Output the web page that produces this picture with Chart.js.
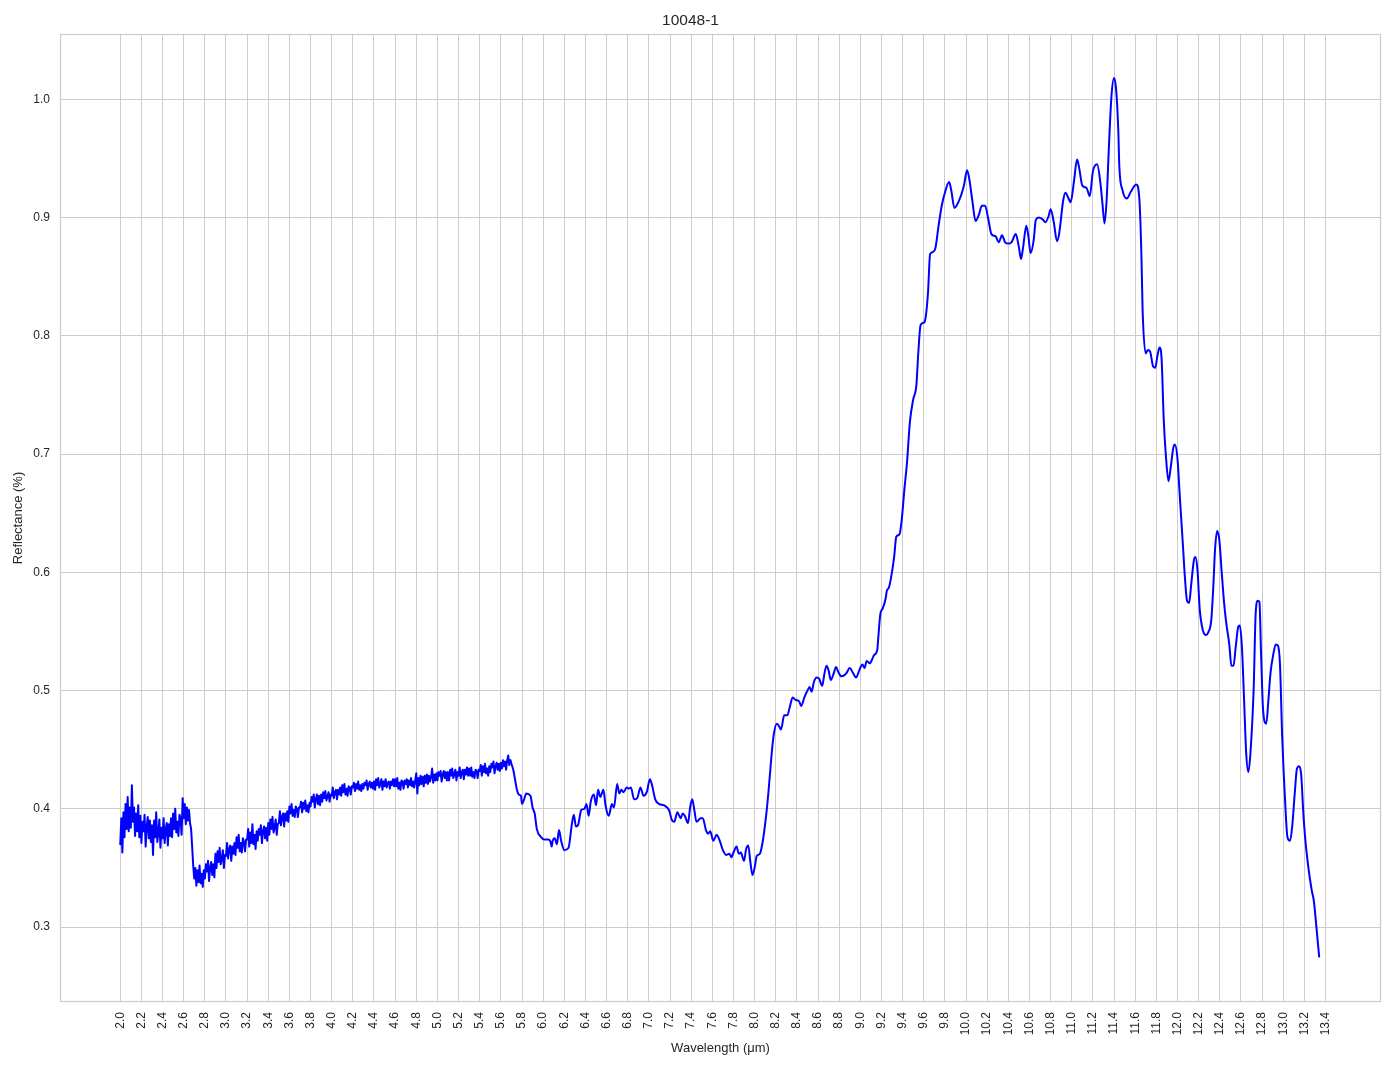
<!DOCTYPE html>
<html>
<head>
<meta charset="utf-8">
<title>10048-1</title>
<script src="https://cdn.jsdelivr.net/npm/chart.js@4.4.0/dist/chart.umd.min.js"></script>
<style>
  html, body { margin: 0; padding: 0; background: #ffffff; }
  #grafico { display: block; }
</style>
</head>
<body>
<canvas id="grafico" width="1394" height="1069"></canvas>
<script>
// Trecho ruidoso (2.00 - 5.69 um), lido ponto a ponto do grafico
const ondaRuido = [
  2.00, 2.01, 2.02, 2.03, 2.04, 2.05, 2.06, 2.07, 2.08, 2.09,
  2.10, 2.11, 2.12, 2.13, 2.14, 2.15, 2.16, 2.17, 2.18, 2.19,
  2.20, 2.21, 2.22, 2.23, 2.24, 2.25, 2.26, 2.27, 2.28, 2.29,
  2.30, 2.31, 2.32, 2.33, 2.34, 2.35, 2.36, 2.37, 2.38, 2.39,
  2.40, 2.41, 2.42, 2.43, 2.44, 2.45, 2.46, 2.47, 2.48, 2.49,
  2.50, 2.51, 2.52, 2.53, 2.54, 2.55, 2.56, 2.57, 2.58, 2.59,
  2.60, 2.61, 2.62, 2.63, 2.64, 2.65, 2.66, 2.67, 2.68, 2.69,
  2.70, 2.71, 2.72, 2.73, 2.74, 2.75, 2.76, 2.77, 2.78, 2.79,
  2.80, 2.81, 2.82, 2.83, 2.84, 2.85, 2.86, 2.87, 2.88, 2.89,
  2.90, 2.91, 2.92, 2.93, 2.94, 2.95, 2.96, 2.97, 2.98, 2.99,
  3.00, 3.01, 3.02, 3.03, 3.04, 3.05, 3.06, 3.07, 3.08, 3.09,
  3.10, 3.11, 3.12, 3.13, 3.14, 3.15, 3.16, 3.17, 3.18, 3.19,
  3.20, 3.21, 3.22, 3.23, 3.24, 3.25, 3.26, 3.27, 3.28, 3.29,
  3.30, 3.31, 3.32, 3.33, 3.34, 3.35, 3.36, 3.37, 3.38, 3.39,
  3.40, 3.41, 3.42, 3.43, 3.44, 3.45, 3.46, 3.47, 3.48, 3.49,
  3.50, 3.51, 3.52, 3.53, 3.54, 3.55, 3.56, 3.57, 3.58, 3.59,
  3.60, 3.61, 3.62, 3.63, 3.64, 3.65, 3.66, 3.67, 3.68, 3.69,
  3.70, 3.71, 3.72, 3.73, 3.74, 3.75, 3.76, 3.77, 3.78, 3.79,
  3.80, 3.81, 3.82, 3.83, 3.84, 3.85, 3.86, 3.87, 3.88, 3.89,
  3.90, 3.91, 3.92, 3.93, 3.94, 3.95, 3.96, 3.97, 3.98, 3.99,
  4.00, 4.01, 4.02, 4.03, 4.04, 4.05, 4.06, 4.07, 4.08, 4.09,
  4.10, 4.11, 4.12, 4.13, 4.14, 4.15, 4.16, 4.17, 4.18, 4.19,
  4.20, 4.21, 4.22, 4.23, 4.24, 4.25, 4.26, 4.27, 4.28, 4.29,
  4.30, 4.31, 4.32, 4.33, 4.34, 4.35, 4.36, 4.37, 4.38, 4.39,
  4.40, 4.41, 4.42, 4.43, 4.44, 4.45, 4.46, 4.47, 4.48, 4.49,
  4.50, 4.51, 4.52, 4.53, 4.54, 4.55, 4.56, 4.57, 4.58, 4.59,
  4.60, 4.61, 4.62, 4.63, 4.64, 4.65, 4.66, 4.67, 4.68, 4.69,
  4.70, 4.71, 4.72, 4.73, 4.74, 4.75, 4.76, 4.77, 4.78, 4.79,
  4.80, 4.81, 4.82, 4.83, 4.84, 4.85, 4.86, 4.87, 4.88, 4.89,
  4.90, 4.91, 4.92, 4.93, 4.94, 4.95, 4.96, 4.97, 4.98, 4.99,
  5.00, 5.01, 5.02, 5.03, 5.04, 5.05, 5.06, 5.07, 5.08, 5.09,
  5.10, 5.11, 5.12, 5.13, 5.14, 5.15, 5.16, 5.17, 5.18, 5.19,
  5.20, 5.21, 5.22, 5.23, 5.24, 5.25, 5.26, 5.27, 5.28, 5.29,
  5.30, 5.31, 5.32, 5.33, 5.34, 5.35, 5.36, 5.37, 5.38, 5.39,
  5.40, 5.41, 5.42, 5.43, 5.44, 5.45, 5.46, 5.47, 5.48, 5.49,
  5.50, 5.51, 5.52, 5.53, 5.54, 5.55, 5.56, 5.57, 5.58, 5.59,
  5.60, 5.61, 5.62, 5.63, 5.64, 5.65, 5.66, 5.67, 5.68, 5.69,
];
const reflRuido = [
  0.370, 0.392, 0.363, 0.397, 0.376, 0.404, 0.383, 0.410, 0.381, 0.401,
  0.384, 0.420, 0.389, 0.401, 0.377, 0.396, 0.381, 0.403, 0.376, 0.394,
  0.371, 0.389, 0.381, 0.395, 0.368, 0.385, 0.393, 0.375, 0.390, 0.372,
  0.386, 0.361, 0.390, 0.376, 0.397, 0.372, 0.379, 0.391, 0.367, 0.384,
  0.375, 0.392, 0.371, 0.383, 0.388, 0.369, 0.387, 0.377, 0.392, 0.376,
  0.396, 0.383, 0.400, 0.380, 0.389, 0.377, 0.395, 0.392, 0.378, 0.409,
  0.392, 0.404, 0.387, 0.401, 0.390, 0.399, 0.388, 0.383, 0.368, 0.352,
  0.341, 0.350, 0.335, 0.348, 0.338, 0.352, 0.337, 0.345, 0.334, 0.348,
  0.341, 0.353, 0.347, 0.356, 0.339, 0.350, 0.355, 0.344, 0.353, 0.342,
  0.362, 0.350, 0.364, 0.355, 0.367, 0.353, 0.357, 0.365, 0.350, 0.361,
  0.360, 0.371, 0.358, 0.366, 0.369, 0.356, 0.368, 0.362, 0.371, 0.361,
  0.376, 0.367, 0.378, 0.364, 0.371, 0.363, 0.375, 0.372, 0.364, 0.374,
  0.374, 0.383, 0.368, 0.380, 0.371, 0.387, 0.370, 0.378, 0.366, 0.381,
  0.373, 0.383, 0.378, 0.386, 0.371, 0.381, 0.385, 0.375, 0.384, 0.373,
  0.388, 0.378, 0.391, 0.383, 0.393, 0.380, 0.384, 0.391, 0.378, 0.387,
  0.388, 0.398, 0.386, 0.393, 0.396, 0.385, 0.396, 0.390, 0.398, 0.389,
  0.402, 0.396, 0.404, 0.394, 0.399, 0.393, 0.402, 0.400, 0.393, 0.401,
  0.401, 0.406, 0.397, 0.405, 0.400, 0.407, 0.398, 0.403, 0.397, 0.405,
  0.402, 0.410, 0.406, 0.412, 0.401, 0.408, 0.412, 0.404, 0.411, 0.403,
  0.412, 0.406, 0.414, 0.409, 0.415, 0.407, 0.410, 0.414, 0.406, 0.412,
  0.411, 0.418, 0.409, 0.414, 0.416, 0.408, 0.416, 0.412, 0.418, 0.411,
  0.420, 0.414, 0.421, 0.412, 0.417, 0.411, 0.419, 0.418, 0.412, 0.419,
  0.418, 0.422, 0.415, 0.421, 0.417, 0.423, 0.416, 0.420, 0.415, 0.421,
  0.417, 0.422, 0.420, 0.424, 0.416, 0.421, 0.423, 0.418, 0.422, 0.417,
  0.423, 0.416, 0.425, 0.420, 0.426, 0.418, 0.421, 0.425, 0.416, 0.423,
  0.419, 0.425, 0.418, 0.422, 0.423, 0.417, 0.423, 0.420, 0.425, 0.419,
  0.425, 0.419, 0.426, 0.417, 0.422, 0.416, 0.424, 0.423, 0.417, 0.424,
  0.421, 0.425, 0.418, 0.424, 0.420, 0.426, 0.419, 0.423, 0.418, 0.424,
  0.430, 0.413, 0.426, 0.420, 0.428, 0.421, 0.427, 0.419, 0.428, 0.422,
  0.429, 0.421, 0.428, 0.423, 0.427, 0.434, 0.422, 0.429, 0.424, 0.430,
  0.424, 0.431, 0.428, 0.432, 0.423, 0.429, 0.432, 0.426, 0.431, 0.424,
  0.431, 0.424, 0.433, 0.428, 0.434, 0.426, 0.429, 0.433, 0.424, 0.431,
  0.428, 0.435, 0.426, 0.431, 0.433, 0.425, 0.433, 0.429, 0.435, 0.428,
  0.434, 0.428, 0.435, 0.427, 0.431, 0.426, 0.433, 0.432, 0.426, 0.433,
  0.432, 0.437, 0.428, 0.436, 0.431, 0.438, 0.430, 0.434, 0.428, 0.436,
  0.431, 0.438, 0.435, 0.440, 0.430, 0.436, 0.439, 0.433, 0.438, 0.432,
  0.439, 0.434, 0.441, 0.436, 0.440, 0.433, 0.441, 0.445, 0.437, 0.441,
];

// Trecho suave (5.70 - 13.34 um)
const ondaSuave = [
  5.70, 5.72, 5.73, 5.75, 5.77, 5.79, 5.80, 5.82, 5.84, 5.88,
  5.90, 5.92, 5.94, 5.98, 6.01, 6.05, 6.07, 6.08, 6.09, 6.11,
  6.13, 6.15, 6.17, 6.20, 6.24, 6.27, 6.29, 6.31, 6.33, 6.36,
  6.39, 6.41, 6.43, 6.45, 6.48, 6.50, 6.52, 6.54, 6.57, 6.59,
  6.62, 6.65, 6.67, 6.70, 6.72, 6.74, 6.76, 6.79, 6.81, 6.83,
  6.86, 6.89, 6.92, 6.95, 6.98, 7.01, 7.03, 7.06, 7.10, 7.14,
  7.19, 7.22, 7.24, 7.27, 7.30, 7.32, 7.34, 7.37, 7.39, 7.41,
  7.43, 7.45, 7.49, 7.51, 7.54, 7.56, 7.58, 7.61, 7.64, 7.67,
  7.70, 7.73, 7.76, 7.78, 7.80, 7.83, 7.85, 7.87, 7.90, 7.92,
  7.94, 7.96, 7.98, 8.00, 8.02, 8.05, 8.08, 8.11, 8.13, 8.16,
  8.18, 8.21, 8.23, 8.25, 8.28, 8.31, 8.33, 8.36, 8.39, 8.42,
  8.44, 8.47, 8.50, 8.52, 8.54, 8.56, 8.59, 8.61, 8.64, 8.66,
  8.68, 8.70, 8.72, 8.75, 8.77, 8.79, 8.82, 8.85, 8.87, 8.90,
  8.93, 8.96, 8.99, 9.02, 9.04, 9.06, 9.09, 9.11, 9.13, 9.16,
  9.17, 9.19, 9.21, 9.24, 9.25, 9.27, 9.29, 9.32, 9.34, 9.37,
  9.39, 9.42, 9.44, 9.47, 9.50, 9.53, 9.55, 9.57, 9.60, 9.61,
  9.64, 9.66, 9.69, 9.71, 9.74, 9.77, 9.80, 9.84, 9.86, 9.89,
  9.91, 9.95, 9.98, 10.01, 10.03, 10.06, 10.09, 10.12, 10.15, 10.18,
  10.21, 10.24, 10.28, 10.31, 10.34, 10.37, 10.40, 10.43, 10.47, 10.50,
  10.52, 10.54, 10.57, 10.59, 10.61, 10.64, 10.66, 10.69, 10.73, 10.75,
  10.78, 10.80, 10.83, 10.86, 10.88, 10.92, 10.94, 10.97, 10.99, 11.02,
  11.05, 11.07, 11.10, 11.14, 11.17, 11.20, 11.24, 11.27, 11.29, 11.31,
  11.33, 11.35, 11.375, 11.40, 11.42, 11.44, 11.45, 11.48, 11.52, 11.56,
  11.61, 11.64, 11.66, 11.67, 11.70, 11.72, 11.74, 11.77, 11.79, 11.81,
  11.83, 11.85, 11.87, 11.89, 11.915, 11.935, 11.96, 11.975, 12.00, 12.02,
  12.05, 12.07, 12.09, 12.11, 12.13, 12.155, 12.17, 12.19, 12.21, 12.24,
  12.27, 12.29, 12.32, 12.34, 12.355, 12.375, 12.395, 12.42, 12.44, 12.46,
  12.49, 12.51, 12.53, 12.55, 12.575, 12.59, 12.61, 12.63, 12.65, 12.67,
  12.69, 12.72, 12.74, 12.76, 12.775, 12.79, 12.81, 12.84, 12.86, 12.88,
  12.905, 12.93, 12.95, 12.97, 12.99, 13.02, 13.04, 13.065, 13.085, 13.11,
  13.13, 13.15, 13.17, 13.19, 13.21, 13.24, 13.27, 13.29, 13.315, 13.34,
];
const reflSuave = [
  0.438, 0.432, 0.427, 0.417, 0.412, 0.411, 0.404, 0.408, 0.413, 0.411,
  0.401, 0.396, 0.383, 0.376, 0.374, 0.374, 0.372, 0.368, 0.373, 0.375,
  0.370, 0.382, 0.373, 0.365, 0.367, 0.386, 0.395, 0.385, 0.386, 0.399,
  0.400, 0.404, 0.394, 0.406, 0.412, 0.403, 0.416, 0.410, 0.416, 0.403,
  0.394, 0.404, 0.401, 0.421, 0.413, 0.416, 0.414, 0.418, 0.417, 0.418,
  0.408, 0.409, 0.418, 0.411, 0.414, 0.425, 0.420, 0.408, 0.404, 0.403,
  0.399, 0.390, 0.389, 0.397, 0.392, 0.396, 0.394, 0.388, 0.401, 0.408,
  0.399, 0.389, 0.392, 0.392, 0.382, 0.379, 0.381, 0.373, 0.378, 0.373,
  0.365, 0.361, 0.362, 0.359, 0.363, 0.368, 0.362, 0.363, 0.356, 0.366,
  0.369, 0.355, 0.344, 0.350, 0.360, 0.362, 0.374, 0.395, 0.413, 0.445,
  0.462, 0.472, 0.470, 0.467, 0.479, 0.479, 0.485, 0.494, 0.492, 0.491,
  0.487, 0.494, 0.500, 0.503, 0.499, 0.507, 0.511, 0.510, 0.504, 0.514,
  0.521, 0.517, 0.509, 0.515, 0.520, 0.516, 0.512, 0.513, 0.515, 0.519,
  0.515, 0.511, 0.517, 0.522, 0.519, 0.525, 0.523, 0.526, 0.530, 0.534,
  0.545, 0.565, 0.569, 0.578, 0.584, 0.587, 0.595, 0.613, 0.630, 0.632,
  0.643, 0.673, 0.691, 0.728, 0.746, 0.758, 0.788, 0.809, 0.811, 0.812,
  0.836, 0.869, 0.871, 0.874, 0.893, 0.910, 0.921, 0.930, 0.923, 0.908,
  0.910, 0.918, 0.927, 0.940, 0.933, 0.914, 0.897, 0.902, 0.910, 0.910,
  0.899, 0.886, 0.884, 0.879, 0.885, 0.879, 0.878, 0.879, 0.886, 0.875,
  0.865, 0.875, 0.893, 0.884, 0.870, 0.881, 0.898, 0.900, 0.898, 0.896,
  0.901, 0.907, 0.896, 0.880, 0.886, 0.915, 0.921, 0.916, 0.913, 0.930,
  0.949, 0.942, 0.927, 0.925, 0.918, 0.939, 0.945, 0.930, 0.912, 0.895,
  0.915, 0.957, 1.002, 1.018, 1.008, 0.974, 0.943, 0.923, 0.916, 0.922,
  0.928, 0.915, 0.864, 0.822, 0.785, 0.788, 0.787, 0.774, 0.773, 0.783,
  0.790, 0.780, 0.729, 0.699, 0.677, 0.688, 0.705, 0.708, 0.696, 0.667,
  0.625, 0.596, 0.576, 0.574, 0.590, 0.610, 0.613, 0.601, 0.569, 0.551,
  0.547, 0.549, 0.560, 0.590, 0.619, 0.635, 0.628, 0.598, 0.575, 0.558,
  0.539, 0.521, 0.521, 0.536, 0.554, 0.555, 0.536, 0.492, 0.447, 0.431,
  0.447, 0.500, 0.566, 0.576, 0.575, 0.533, 0.483, 0.472, 0.492, 0.515,
  0.530, 0.539, 0.538, 0.521, 0.462, 0.403, 0.376, 0.373, 0.385, 0.414,
  0.434, 0.436, 0.429, 0.397, 0.373, 0.349, 0.331, 0.322, 0.299, 0.275,
];

const ticksX = [
  2.0, 2.2, 2.4, 2.6, 2.8, 3.0, 3.2, 3.4, 3.6, 3.8,
  4.0, 4.2, 4.4, 4.6, 4.8, 5.0, 5.2, 5.4, 5.6, 5.8,
  6.0, 6.2, 6.4, 6.6, 6.8, 7.0, 7.2, 7.4, 7.6, 7.8,
  8.0, 8.2, 8.4, 8.6, 8.8, 9.0, 9.2, 9.4, 9.6, 9.8,
  10.0, 10.2, 10.4, 10.6, 10.8, 11.0, 11.2, 11.4, 11.6, 11.8,
  12.0, 12.2, 12.4, 12.6, 12.8, 13.0, 13.2, 13.4,
];
const ticksY = [0.3, 0.4, 0.5, 0.6, 0.7, 0.8, 0.9, 1.0];

if (ondaRuido.length !== reflRuido.length || ondaSuave.length !== reflSuave.length) {
  console.error("Tamanhos diferentes nos arrays de dados");
}

const pontosRuido = ondaRuido.map((w, i) => ({ x: w, y: reflRuido[i] }));
// o trecho suave comeca no ultimo ponto do ruidoso para nao deixar buraco
const pontosSuave = [pontosRuido[pontosRuido.length - 1]].concat(
  ondaSuave.map((w, i) => ({ x: w, y: reflSuave[i] }))
);

const corTexto = "#262626";
const corGrade = "#cccccc";
const fonte = "Arial, 'Liberation Sans', sans-serif";

// moldura cinza em volta da area do grafico (estilo whitegrid)
const moldura = {
  id: "moldura",
  beforeDatasetsDraw(chart) {
    const { ctx, chartArea: a } = chart;
    ctx.save();
    ctx.strokeStyle = corGrade;
    ctx.lineWidth = 1.25;
    ctx.strokeRect(a.left + 0.5, a.top + 0.5, a.right - a.left - 1, a.bottom - a.top - 1);
    ctx.restore();
  },
};

const ctx = document.getElementById("grafico").getContext("2d");

new Chart(ctx, {
  type: "line",
  data: {
    datasets: [
      {
        data: pontosRuido,
        borderColor: "#0000ff",
        borderWidth: 2,
        borderJoinStyle: "round",
        borderCapStyle: "round",
        pointRadius: 0,
        tension: 0,
        fill: false,
      },
      {
        data: pontosSuave,
        borderColor: "#0000ff",
        borderWidth: 2,
        borderJoinStyle: "round",
        borderCapStyle: "round",
        pointRadius: 0,
        cubicInterpolationMode: "monotone",
        fill: false,
      },
    ],
  },
  options: {
    responsive: false,
    animation: false,
    events: [],
    layout: { padding: { left: 0, right: 13, top: 0, bottom: 0 } },
    plugins: {
      legend: { display: false },
      tooltip: { enabled: false },
      title: {
        display: true,
        text: "10048-1",
        color: corTexto,
        font: { family: fonte, size: 15.5, weight: "normal" },
        padding: { top: 11, bottom: 4.4 },
      },
    },
    scales: {
      x: {
        type: "linear",
        min: 1.43,
        max: 13.925,
        afterBuildTicks: (eixo) => {
          eixo.ticks = ticksX.map((v) => ({ value: v }));
        },
        afterFit: (eixo) => {
          eixo.height = 67;
        },
        ticks: {
          autoSkip: false,
          minRotation: 90,
          maxRotation: 90,
          padding: 10,
          color: corTexto,
          font: { family: fonte, size: 12 },
          callback: (v) => Number(v).toFixed(1),
        },
        grid: { color: corGrade, lineWidth: 1, drawTicks: false },
        border: { display: false },
        title: {
          display: true,
          text: "Wavelength (μm)",
          color: corTexto,
          font: { family: fonte, size: 13 },
          padding: { top: 0, bottom: 13 },
        },
      },
      y: {
        type: "linear",
        min: 0.2366,
        max: 1.0552,
        afterBuildTicks: (eixo) => {
          eixo.ticks = ticksY.map((v) => ({ value: v }));
        },
        afterFit: (eixo) => {
          eixo.width = 60;
        },
        ticks: {
          padding: 10,
          color: corTexto,
          font: { family: fonte, size: 12 },
          callback: (v) => Number(v).toFixed(1),
        },
        grid: { color: corGrade, lineWidth: 1, drawTicks: false },
        border: { display: false },
        title: {
          display: true,
          text: "Reflectance (%)",
          color: corTexto,
          font: { family: fonte, size: 13 },
          padding: { top: 11, bottom: 0 },
        },
      },
    },
  },
  plugins: [moldura],
});
</script>
</body>
</html>
